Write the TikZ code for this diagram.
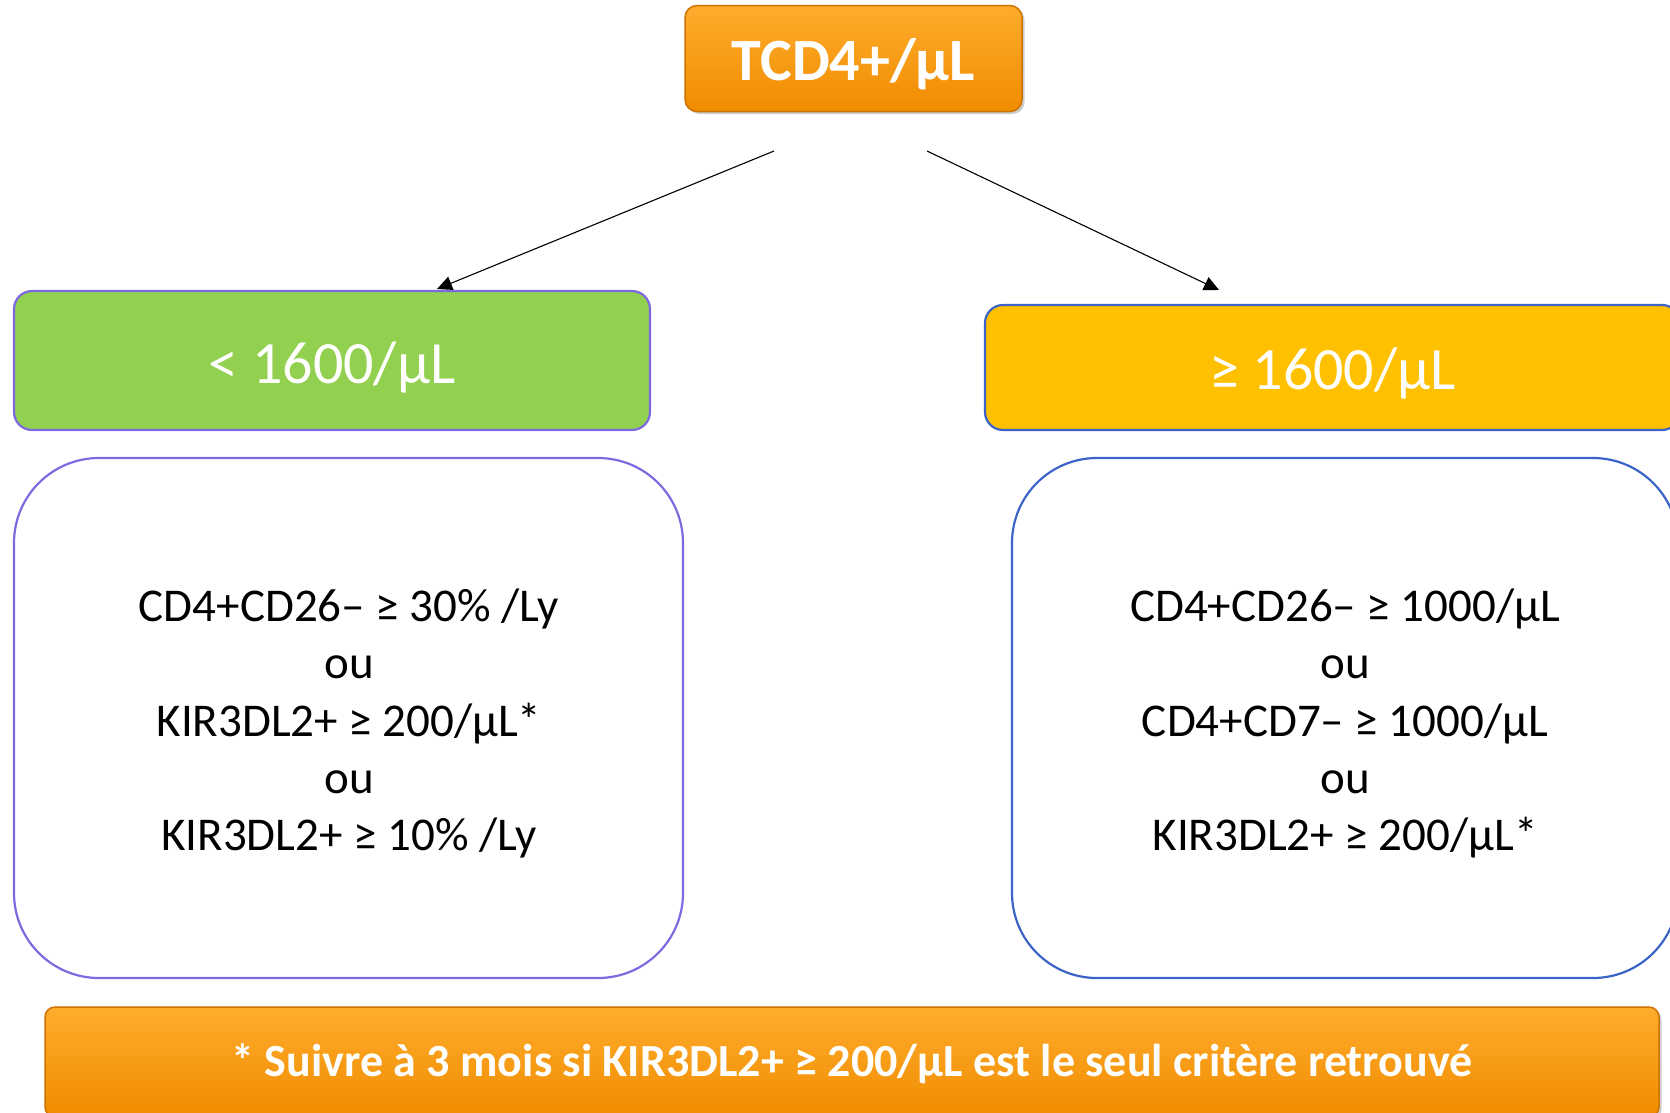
\documentclass[tikz,border=0pt]{standalone}
\usepackage{fontspec}
\setmainfont{Carlito}
\usetikzlibrary{arrows.meta,shadows}
\definecolor{orangeA}{RGB}{255,172,45}
\definecolor{orangeB}{RGB}{255,156,4}
\definecolor{orangeC}{RGB}{240,140,0}
\definecolor{orangeEdge}{RGB}{205,115,0}
\definecolor{greenbox}{RGB}{146,208,80}
\definecolor{yellowbox}{RGB}{255,192,0}
\definecolor{purpleedge}{RGB}{128,104,224}
\definecolor{blueedge}{RGB}{60,100,200}
\begin{document}
\begin{tikzpicture}[x=1pt,y=-1pt,
  orangebox/.style={rectangle, rounded corners=12pt, draw=orangeEdge, line width=1.5pt,
    top color=orangeA, middle color=orangeB, bottom color=orangeC, shading=axis,
    drop shadow={opacity=0.4, shadow xshift=2.5pt, shadow yshift=-2.5pt},
    inner sep=0pt},
  headbox/.style={rectangle, rounded corners=18pt, line width=2.2pt, inner sep=0pt},
  critbox/.style={rectangle, rounded corners=85pt, fill=white, line width=2.2pt, inner sep=0pt},
  labeltext/.style={text=white, inner sep=0pt},
  crittext/.style={align=center, inner sep=0pt, font=\fontsize{47}{57.3}\selectfont},
  conn/.style={line width=1.1pt, -{Triangle[length=15pt,width=14pt]}}]
\clip (0,0) rectangle (1670,1112);
\fill[white] (0,0) rectangle (1670,1112);

\node[orangebox, minimum width=337pt, minimum height=106pt] (top) at (853.5,58.5) {};
\node[labeltext, font=\fontsize{60}{72}\selectfont\bfseries] (toptxt) at (853.5,64) {TCD4+/µL};

\node[headbox, fill=greenbox, draw=purpleedge, minimum width=636pt, minimum height=139pt]
  (low) at (332,360.5) {};
\node[labeltext, font=\fontsize{60}{72}\selectfont] (lowtxt) at (332,367) {< 1600/µL};
\node[headbox, fill=yellowbox, draw=blueedge, minimum width=695pt, minimum height=125pt]
  (high) at (1332.5,367.5) {};
\node[labeltext, font=\fontsize{60}{72}\selectfont] (hightxt) at (1332.5,373) {≥ 1600/µL};

\node[critbox, draw=purpleedge, minimum width=669pt, minimum height=520pt] (lowcrit) at (348.5,718) {};
\node[crittext] (lowcrittxt) at (349,723.5)
  {CD4+CD26– ≥ 30\% /Ly\\ou\\KIR3DL2+ ≥ 200/µL*\\ou\\KIR3DL2+ ≥ 10\% /Ly};
\node[critbox, draw=blueedge, minimum width=666pt, minimum height=520pt] (highcrit) at (1345,718) {};
\node[crittext] (highcrittxt) at (1345,723.5)
  {CD4+CD26– ≥ 1000/µL\\ou\\CD4+CD7– ≥ 1000/µL\\ou\\KIR3DL2+ ≥ 200/µL*};

\node[orangebox, rounded corners=10pt, minimum width=1614pt, minimum height=110pt] (note) at (852,1062) {};
\node[labeltext, font=\fontsize{46}{55}\selectfont\bfseries] (notetxt) at (852,1064)
  {* Suivre à 3 mois si KIR3DL2+ ≥ 200/µL est le seul critère retrouvé};

\coordinate (s1) at (774,151);
\coordinate (e1) at (437,289);
\coordinate (s2) at (927,151);
\coordinate (e2) at (1219,290);
\draw[conn] (s1) -- (e1);
\draw[conn] (s2) -- (e2);
\end{tikzpicture}
\end{document}
